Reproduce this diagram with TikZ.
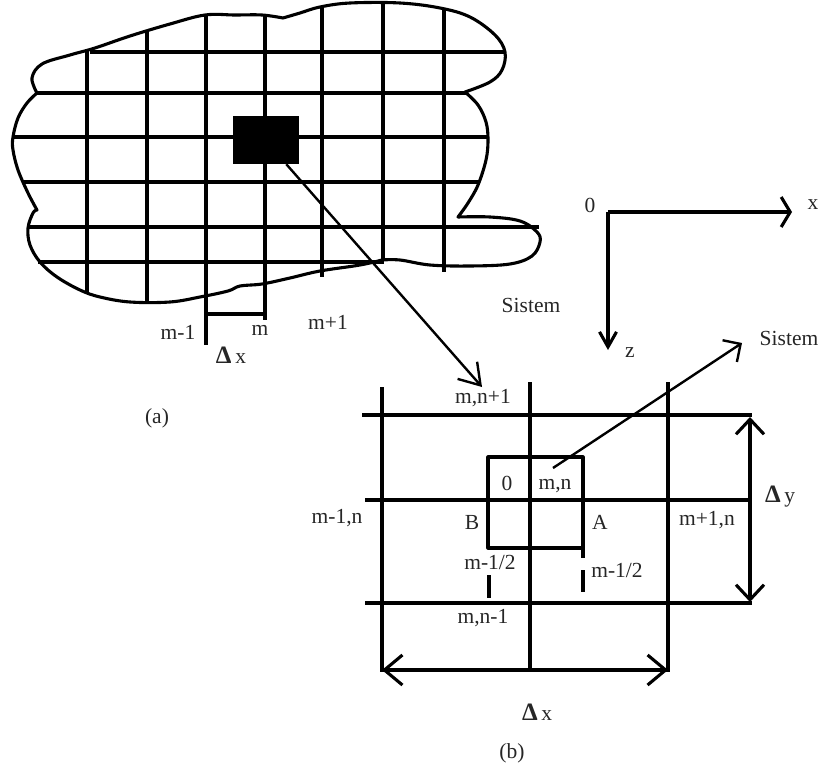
\documentclass[tikz,border=0pt]{standalone}
\usepackage{fontspec}
\setmainfont{Liberation Serif}
\usepackage{tikz}
\usetikzlibrary{arrows.meta, calc}
\newcommand{\bigdelta}{{\fontsize{25}{28}\selectfont\textbf{Δ}}}

\begin{document}
\begin{tikzpicture}[x=1pt, y=-1pt,
  lbl/.style={font=\fontsize{21.5}{25}\selectfont, inner sep=0pt, text=black!85},
  gridln/.style={line width=3.1pt},
  edge/.style={line width=3.1pt, line join=round},
  ptr/.style={line width=2.4pt},
  bigbarb/.tip={Straight Barb[length=18pt, width=30pt]}
]
\useasboundingbox (0,0) rectangle (825,773);

% Outline of the region (a)
\draw[edge] plot[smooth, tension=0.6] coordinates {(37,93) (32,78) (42,64) (70,55) (95,48) (130,36) (170,24) (205,15) (235,15) (262,15) (283,18)}
  -- plot[smooth, tension=0.6] coordinates {(283,18) (300,13) (320,7) (350,3) (400,3) (440,8) (470,17) (495,35) (505,52) (502,70) (490,82) (465,92)}
  -- plot[smooth, tension=0.6] coordinates {(465,92) (478,105) (486,122) (488,140) (486,160) (478,185) (468,203) (458,217)}
  -- plot[smooth, tension=0.6] coordinates {(458,217) (490,217) (520,221) (537,232) (540,242) (532,256) (510,264) (470,266) (430,265) (400,260) (382,260)}
  -- plot[smooth, tension=0.6] coordinates {(382,260) (360,265) (320,271) (290,278) (262,284) (240,286) (228,291) (200,297) (170,302) (130,302) (100,297) (80,290) (57,277) (40,262) (30,245) (28,228) (33,213) (37,210)}
  -- plot[smooth, tension=0.6] coordinates {(37,210) (28,193) (18,170) (13,150) (13,137) (18,118) (27,103) (37,93)} -- cycle;

% Grid of (a)
\draw[gridln] (90,52) -- (505,52);
\draw[gridln] (37,93) -- (466,93);
\draw[gridln] (13,137) -- (488,137);
\draw[gridln] (22,182) -- (478,182);
\draw[gridln] (27,227) -- (539,227);
\draw[gridln] (38,262) -- (384,262);
\draw[gridln] (87,51) -- (87,292);
\draw[gridln] (147,30) -- (147,302);
\draw[gridln] (206,15) -- (206,345);
\draw[gridln] (265,15) -- (265,320);
\draw[gridln] (322,7) -- (322,277);
\draw[gridln] (383,3) -- (383,260);
\draw[gridln] (444,8) -- (444,272);
\draw[gridln] (206,314) -- (265,314);

% Marked cell
\node[fill=black, minimum width=66pt, minimum height=48pt, inner sep=0pt] (blk) at (266,140) {};

% Labels of (a)
\node[lbl] (mA) at (178,332) {m-1};
\node[lbl] (mB) at (260,330) {m};
\node[lbl] (mC) at (328,322) {m+1};
\node[lbl] (dxa) at (231,355) {\bigdelta\,x};
\node[lbl] (capa) at (157,418) {(a)};
\node[lbl] (sysA) at (531,305) {Sistem};

% Axes
\coordinate (O) at (608,212);
\coordinate (xend) at (792,212);
\coordinate (zend) at (608,350);
\draw[edge, -{Straight Barb[length=9pt, width=30pt]}] (O) -- (xend);
\draw[edge, -{Straight Barb[length=15pt, width=17pt]}] (O) -- (zend);
\node[lbl] (lO) at (590,205) {0};
\node[lbl] (lx) at (813,205) {x};
\node[lbl] (lz) at (630,353) {z};
\node[lbl] (sysB) at (789,338) {Sistem};

% Grid of (b)
\draw[gridln] (362,415) -- (752,415);
\draw[gridln] (365,500) -- (750,500);
\draw[gridln] (365,603) -- (752,603);
\draw[gridln] (382,387) -- (382,672);
\draw[gridln] (530,382) -- (530,672);
\draw[gridln] (668,382) -- (668,672);

% Control volume round node m,n
\draw[edge] (488,457) rectangle (583,548);
\draw[edge] (489,575) -- (489,598);
\draw[edge] (583,548) -- (583,558);
\draw[edge] (583,570) -- (583,592);

% Dimensions
\coordinate (dxl) at (382,670);
\coordinate (dxr) at (668,670);
\coordinate (dyt) at (750,417);
\coordinate (dyb) at (750,602);
\draw[edge, bigbarb-bigbarb] (dxl) -- (dxr);
\draw[edge, {Straight Barb[length=15pt, width=28pt]}-{Straight Barb[length=15pt, width=28pt]}] (dyt) -- (dyb);

% Pointers
\coordinate (tipA) at (482,387);
\coordinate (cvpt) at (553,468);
\coordinate (tipB) at (742,343);
\draw[ptr, -{Straight Barb[length=20pt, width=26pt]}] (blk.-50) -- (tipA);
\draw[ptr, -{Straight Barb[length=13pt, width=26pt]}] (cvpt) -- (tipB);

% Labels of (b)
\node[lbl] (nN) at (483,398) {m,n+1};
\node[lbl] (lzero) at (507,483) {0};
\node[lbl] (nC) at (555,486) {m,n};
\node[lbl] (nW) at (337,518) {m-1,n};
\node[lbl] (lB) at (472,522) {B};
\node[lbl] (lA) at (600,522) {A};
\node[lbl] (nE) at (707,520) {m+1,n};
\node[lbl] (hW) at (490,562) {m-1/2};
\node[lbl] (hE) at (617,570) {m-1/2};
\node[lbl] (nS) at (483,618) {m,n-1};
\node[lbl] (dxb) at (537,712) {\bigdelta\,x};
\node[lbl] (ldy) at (780,497) {\bigdelta\,y};
\node[lbl] (capb) at (512,753) {(b)};

\end{tikzpicture}
\end{document}
